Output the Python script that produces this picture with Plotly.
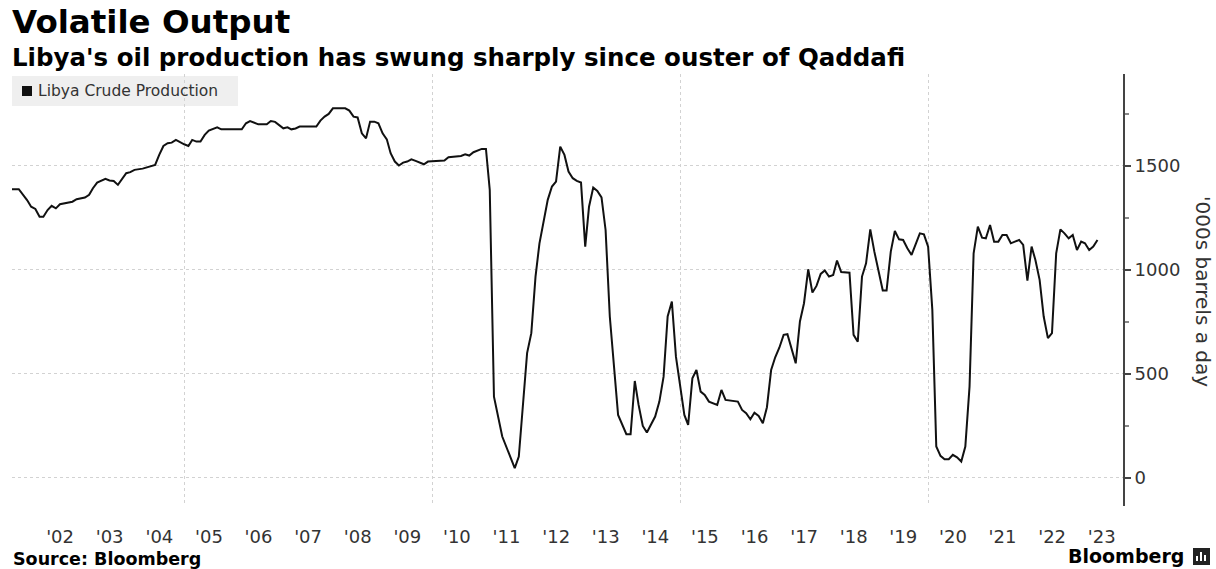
import plotly.graph_objects as go

# ---- data ----
dates = [
    "2001-07", "2001-09", "2001-11", "2001-12", "2002-01", "2002-02", "2002-03", "2002-04",
    "2002-05", "2002-06", "2002-07", "2002-09", "2002-10", "2002-11", "2003-01", "2003-02",
    "2003-03", "2003-04", "2003-05", "2003-06", "2003-07", "2003-08", "2003-09", "2003-10",
    "2003-11", "2003-12", "2004-01", "2004-03", "2004-04", "2004-05", "2004-06", "2004-07",
    "2004-08", "2004-09", "2004-10", "2004-11", "2004-12", "2005-01", "2005-02", "2005-03",
    "2005-04", "2005-05", "2005-06", "2005-07", "2005-09", "2005-10", "2006-03", "2006-04",
    "2006-05", "2006-07", "2006-09", "2006-10", "2006-11", "2007-01", "2007-02", "2007-03",
    "2007-04", "2007-05", "2007-09", "2007-10", "2007-11", "2007-12", "2008-01", "2008-04",
    "2008-05", "2008-06", "2008-07", "2008-08", "2008-09", "2008-10", "2008-11", "2008-12",
    "2009-01", "2009-02", "2009-03", "2009-04", "2009-05", "2009-06", "2009-07", "2009-08",
    "2009-09", "2009-11", "2009-12", "2010-04", "2010-05", "2010-08", "2010-09", "2010-10",
    "2010-11", "2011-01", "2011-02", "2011-03", "2011-04", "2011-06", "2011-09", "2011-10",
    "2011-12", "2012-01", "2012-02", "2012-03", "2012-05", "2012-06", "2012-07", "2012-08",
    "2012-09", "2012-10", "2012-11", "2012-12", "2013-01", "2013-02", "2013-03", "2013-04",
    "2013-05", "2013-06", "2013-07", "2013-08", "2013-10", "2013-11", "2013-12", "2014-01",
    "2014-02", "2014-03", "2014-04", "2014-05", "2014-06", "2014-07", "2014-08", "2014-09",
    "2014-10", "2014-11", "2014-12", "2015-01", "2015-02", "2015-03", "2015-04", "2015-05",
    "2015-06", "2015-07", "2015-08", "2015-10", "2015-11", "2015-12", "2016-03", "2016-04",
    "2016-05", "2016-06", "2016-07", "2016-08", "2016-09", "2016-10", "2016-11", "2016-12",
    "2017-01", "2017-02", "2017-03", "2017-05", "2017-06", "2017-07", "2017-08", "2017-09",
    "2017-10", "2017-11", "2017-12", "2018-01", "2018-02", "2018-03", "2018-04", "2018-06",
    "2018-07", "2018-08", "2018-09", "2018-10", "2018-11", "2018-12", "2019-02", "2019-03",
    "2019-04", "2019-05", "2019-06", "2019-07", "2019-08", "2019-09", "2019-10", "2019-11",
    "2019-12", "2020-01", "2020-02", "2020-03", "2020-04", "2020-05", "2020-06", "2020-07",
    "2020-08", "2020-09", "2020-10", "2020-11", "2020-12", "2021-01", "2021-02", "2021-03",
    "2021-04", "2021-05", "2021-06", "2021-07", "2021-08", "2021-09", "2021-10", "2021-11",
    "2021-12", "2022-01", "2022-02", "2022-03", "2022-04", "2022-05", "2022-06", "2022-07",
    "2022-08", "2022-09", "2022-10", "2022-11", "2022-12", "2023-01", "2023-02", "2023-03",
    "2023-04", "2023-05", "2023-06",
]
production = [
    1388, 1388, 1336, 1304, 1293, 1256, 1256, 1288,
    1308, 1296, 1316, 1324, 1328, 1340, 1348, 1361,
    1393, 1420, 1428, 1438, 1430, 1428, 1409, 1436,
    1465, 1470, 1481, 1487, 1492, 1500, 1505, 1553,
    1596, 1609, 1612, 1625, 1614, 1604, 1596, 1625,
    1617, 1617, 1649, 1670, 1686, 1676, 1676, 1705,
    1716, 1700, 1700, 1716, 1712, 1681, 1686, 1676,
    1680, 1689, 1689, 1718, 1737, 1750, 1777, 1777,
    1766, 1737, 1733, 1657, 1633, 1713, 1713, 1705,
    1657, 1628, 1561, 1521, 1502, 1516, 1521, 1532,
    1524, 1508, 1521, 1526, 1542, 1548, 1556, 1550,
    1566, 1582, 1582, 1385, 391, 199, 47, 103,
    600, 696, 968, 1128, 1337, 1401, 1425, 1593,
    1553, 1473, 1441, 1428, 1420, 1112, 1304, 1396,
    1380, 1349, 1192, 776, 303, 255, 210, 210,
    466, 351, 250, 218, 255, 295, 367, 487,
    776, 848, 583, 439, 303, 255, 479, 519,
    415, 399, 367, 351, 423, 375, 367, 327,
    311, 282, 314, 298, 263, 340, 519, 580,
    627, 688, 691, 551, 752, 840, 1003, 891,
    923, 981, 997, 968, 976, 1045, 990, 987,
    688, 655, 968, 1032, 1195, 1088, 901, 901,
    1088, 1187, 1147, 1144, 1104, 1072, 1128, 1176,
    1171, 1112, 808, 151, 106, 90, 90, 111,
    99, 79, 151, 439, 1080, 1208, 1155, 1152,
    1216, 1136, 1136, 1168, 1168, 1128, 1136, 1144,
    1120, 949, 1112, 1048, 952, 776, 672, 696,
    1080, 1195, 1176, 1152, 1168, 1096, 1136, 1128,
    1096, 1112, 1144,
]
years = list(range(2002, 2024))
year_labels = ["'%02d" % (y % 100) for y in years]
y_ticks = [0, 500, 1000, 1500]
series_name = "Libya Crude Production"
title = "Volatile Output"
subtitle = "Libya's oil production has swung sharply since ouster of Qaddafi"
y_title = "'000s barrels a day"
source = "Source: Bloomberg"

# ---- layout geometry (pixels) ----
W, H = 1216, 569
L, R, T, B = 12, 1123, 74, 506


def px(x):
    return (x - L) / (R - L)


def py(y):
    return (B - y) / (B - T)


FONT = "DejaVu Sans"
TXT = "#333333"
GRID = "#d2d2d2"

fig = go.Figure()
fig.add_trace(go.Scatter(
    x=[d + "-01" for d in dates], y=production, mode="lines",
    line=dict(color="#111111", width=2), showlegend=False, name=series_name,
    hoverinfo="x+y",
))

fig.update_layout(
    width=W, height=H,
    margin=dict(l=L, r=W - R, t=T, b=H - B, autoexpand=False),
    paper_bgcolor="white", plot_bgcolor="white",
    font=dict(family=FONT, color=TXT),
    xaxis=dict(
        range=["2001-07-13", "2023-12-06"],
        tickmode="array",
        tickvals=["%d-07-02" % y for y in years],
        ticktext=year_labels,
        ticks="outside", ticklen=14, tickcolor="rgba(0,0,0,0)",
        tickfont=dict(size=18, color=TXT),
        showgrid=False, zeroline=False, showline=False,
        minor=dict(
            tickmode="array",
            tickvals=["2005-01-01", "2010-01-01", "2015-01-01", "2020-01-01"],
            showgrid=True, gridcolor=GRID, griddash="dot", gridwidth=1,
            ticks="",
        ),
    ),
    yaxis=dict(
        side="right",
        range=[-135, 1942],
        tickmode="array", tickvals=y_ticks,
        ticks="outside", ticklen=6, tickwidth=1.5, tickcolor="#444444",
        tickfont=dict(size=18, color=TXT),
        showgrid=True, gridcolor=GRID, griddash="dot", gridwidth=1,
        zeroline=False,
        showline=True, linecolor="#444444", linewidth=2,
        minor=dict(
            tickmode="array", tickvals=[250, 750, 1250, 1750],
            ticks="outside", ticklen=4, tickcolor="#888888", showgrid=False,
        ),
    ),
)

# legend box
fig.add_shape(type="rect", xref="paper", yref="paper",
              x0=px(12), x1=px(238), y0=py(106), y1=py(76),
              fillcolor="#efefef", line=dict(width=0), layer="below")
fig.add_shape(type="rect", xref="paper", yref="paper",
              x0=px(22), x1=px(32), y0=py(96), y1=py(86),
              fillcolor="#111111", line=dict(width=0))
fig.add_annotation(text=series_name, xref="paper", yref="paper",
                   x=px(36), y=py(91), xanchor="left", yanchor="middle",
                   showarrow=False, font=dict(size=15.5, color=TXT, family=FONT))

# titles
fig.add_annotation(text="<b>%s</b>" % title, xref="paper", yref="paper",
                   x=px(10), y=py(22), xanchor="left", yanchor="middle",
                   showarrow=False, font=dict(size=32.5, color="#000000", family=FONT))
fig.add_annotation(text="<b>%s</b>" % subtitle, xref="paper", yref="paper",
                   x=px(10), y=py(57.5), xanchor="left", yanchor="middle",
                   showarrow=False, font=dict(size=24.5, color="#000000", family=FONT))

# y axis title (reads top to bottom)
fig.add_annotation(text=y_title, xref="paper", yref="paper",
                   x=px(1203), y=py(291), xanchor="center", yanchor="middle",
                   textangle=90, showarrow=False,
                   font=dict(size=20, color=TXT, family=FONT))

# footer
fig.add_annotation(text="<b>%s</b>" % source, xref="paper", yref="paper",
                   x=px(11), y=py(559), xanchor="left", yanchor="middle",
                   showarrow=False, font=dict(size=17.5, color="#000000", family=FONT))
fig.add_annotation(text="<b>Bloomberg</b>", xref="paper", yref="paper",
                   x=px(1186), y=py(556), xanchor="right", yanchor="middle",
                   showarrow=False, font=dict(size=19, color="#000000", family=FONT))
# small logo mark
fig.add_shape(type="rect", xref="paper", yref="paper",
              x0=px(1193), x1=px(1210), y0=py(565), y1=py(548),
              fillcolor="#222222", line=dict(width=0))
for bx0, bx1, by0 in [(1196, 1198, 556), (1200, 1202, 552), (1204, 1206, 555)]:
    fig.add_shape(type="rect", xref="paper", yref="paper",
                  x0=px(bx0), x1=px(bx1), y0=py(561), y1=py(by0),
                  fillcolor="white", line=dict(width=0))

fig.write_html("out.html")
